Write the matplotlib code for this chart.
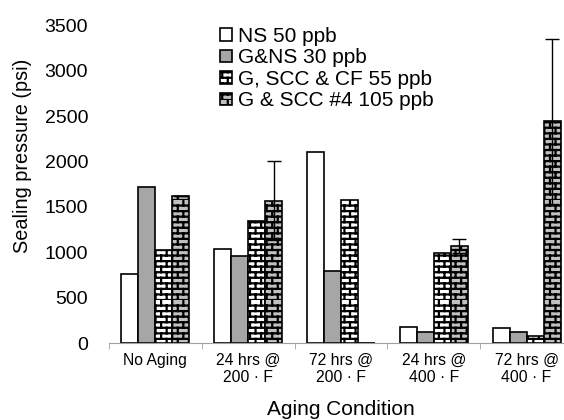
import numpy as np
import matplotlib
matplotlib.use('Agg')
import matplotlib.pyplot as plt
import matplotlib.hatch as mhatch
from matplotlib.path import Path
import warnings

warnings.filterwarnings('ignore')

categories = ['No Aging', '24 hrs @\n200 \u00b7 F', '72 hrs @\n200 \u00b7 F',
              '24 hrs @\n400 \u00b7 F', '72 hrs @\n400 \u00b7 F']
series_names = ['NS 50 ppb', 'G&NS 30 ppb', 'G, SCC & CF 55 ppb', 'G & SCC #4 105 ppb']

ns_50 = [760, 1040, 2100, 180, 170]
gns_30 = [1720, 960, 790, 120, 120]
g_scc_cf_55 = [1020, 1350, 1580, 990, 80]
g_scc4_105 = [1620, 1570, 0, 1070, 2440]
g_scc4_err = [0, 440, 0, 75, 910]


# brick pattern, Excel style
class BrickHatch(mhatch.HatchPatternBase):
    def __init__(self, hatch, density):
        self.rows = 18 if 'B' in hatch else 0
        self.cols = 9
        self.num_vertices = self.rows * 2 + self.rows * self.cols * 2

    def set_vertices_and_codes(self, vertices, codes):
        h = 1.0 / self.rows
        w = 1.0 / self.cols
        i = 0
        for r in range(self.rows):
            y0 = r * h
            vertices[i] = (0.0, y0)
            vertices[i + 1] = (1.0, y0)
            codes[i] = Path.MOVETO
            codes[i + 1] = Path.LINETO
            i += 2
            off = 0.0 if r % 2 == 0 else w / 2
            for c in range(self.cols):
                x = c * w + off
                vertices[i] = (x, y0)
                vertices[i + 1] = (x, y0 + h)
                codes[i] = Path.MOVETO
                codes[i + 1] = Path.LINETO
                i += 2


mhatch._hatch_types.append(BrickHatch)

plt.rcParams['font.family'] = ['Liberation Sans', 'DejaVu Sans']
plt.rcParams['hatch.linewidth'] = 1.6
plt.rcParams['hatch.color'] = 'black'

fig = plt.figure(figsize=(5.64, 4.2), dpi=100)
ax = fig.add_axes([0.193, 0.183, 0.823, 0.757])

x = np.arange(len(categories))
bw = 0.183
series = [ns_50, gns_30, g_scc_cf_55, g_scc4_105]
faces = ['white', '#a6a6a6', 'white', '#c0c0c0']
hatches = [None, None, 'B', 'B']

for k in range(4):
    pos = x + (k - 1.5) * bw
    kw = {}
    if k == 3:
        kw = dict(yerr=g_scc4_err, error_kw=dict(ecolor='black', elinewidth=1, capsize=5, capthick=1))
    ax.bar(pos, series[k], bw, color=faces[k], edgecolor='black', linewidth=1.2,
           hatch=hatches[k], label=series_names[k], **kw)

ax.set_xlim(-0.5, 4.5)
ax.set_ylim(0, 3500)
ax.set_yticks(np.arange(0, 3501, 500))
ax.set_xticks(x)
ax.set_xticklabels(categories)
ax.set_xticks(np.arange(-0.5, 4.6, 1), minor=True)

for s in ['top', 'right', 'left']:
    ax.spines[s].set_visible(False)
ax.spines['bottom'].set_color('#a0a0a0')
ax.tick_params(axis='x', which='major', length=0, labelsize=11.3, pad=7)
ax.tick_params(axis='x', which='minor', length=4, color='#a0a0a0', direction='out')
ax.tick_params(axis='y', length=0, labelsize=14, pad=15)

ax.set_ylabel('Sealing pressure (psi)', fontsize=14.3)
ax.yaxis.set_label_coords(-0.165, 0.59)
ax.set_xlabel('Aging Condition', fontsize=15)
ax.xaxis.set_label_coords(0.5, -0.18)

ax.legend(loc='upper left', bbox_to_anchor=(0.24, 0.995), frameon=False,
          fontsize=15, handlelength=0.55, handleheight=0.55, handletextpad=0.3,
          labelspacing=0.12, borderpad=0, borderaxespad=0)

fig.savefig('out.png', dpi=100)
